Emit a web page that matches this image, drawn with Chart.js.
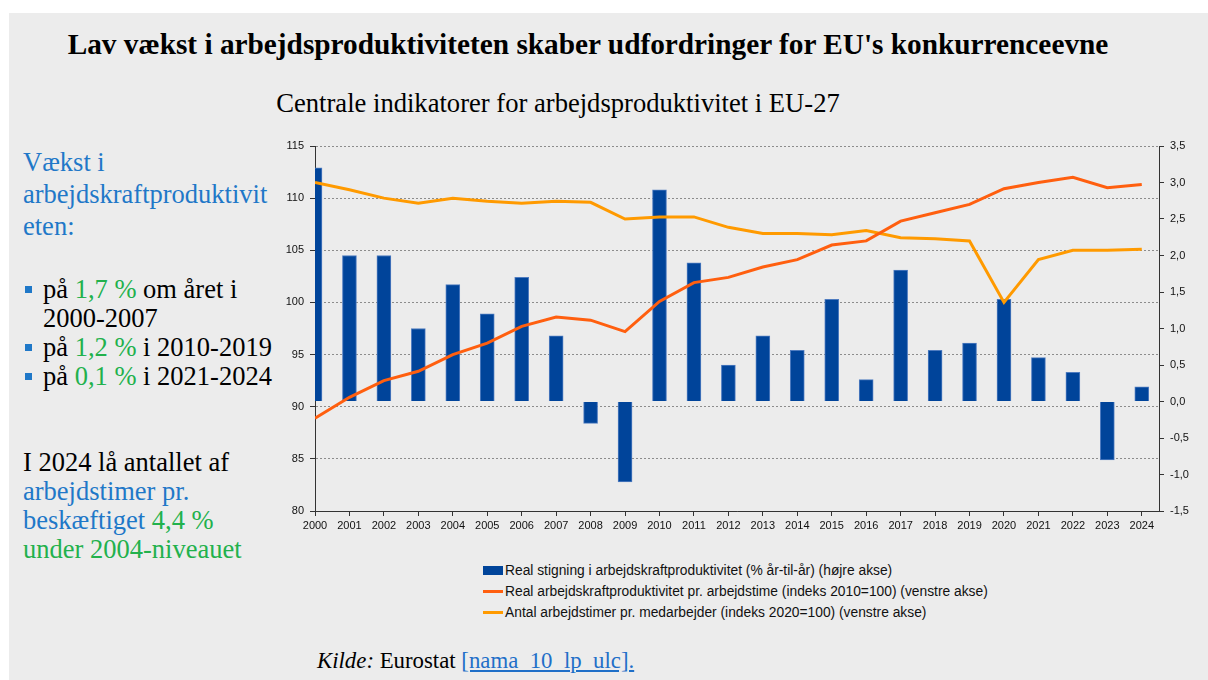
<!DOCTYPE html>
<html>
<head>
<meta charset="utf-8">
<script src="https://cdn.jsdelivr.net/npm/chart.js@4"></script>
<style>
  body { margin: 0; background: #fff; width: 1208px; height: 680px; overflow: hidden; position: relative; }
  #panel { position: absolute; left: 9px; top: 13px; width: 1199px; height: 667px; background: #ececec; }
  .serif { font-family: "Liberation Serif", "Times New Roman", serif; }
  #title { position: absolute; left: 0; width: 1176px; top: 27px; text-align: center; font-weight: bold; font-size: 29.3px; line-height: 34px; color: #000; white-space: nowrap; }
  #subtitle { position: absolute; left: 0; width: 1116px; top: 88px; text-align: center; font-size: 26.6px; line-height: 30px; color: #000; white-space: nowrap; }
  .side { position: absolute; left: 23px; font-size: 26.5px; color: #000; white-space: nowrap; }
  .blue { color: #1f78c8; }
  .green { color: #22b14c; }
  #side1 { top: 146px; line-height: 32px; }
  #side2 { top: 275px; line-height: 29px; }
  #side2 div { position: relative; padding-left: 20px; }
  #side2 div::before { content: ""; position: absolute; left: 2px; top: 11px; width: 7px; height: 7px; background: #1f78c8; }
  #side3 { top: 448px; line-height: 29px; }
  #chartBox { position: absolute; left: 260px; top: 130px; width: 944px; height: 410px; }
  #legend { position: absolute; left: 483px; top: 560px; font-family: "Liberation Sans", Arial, sans-serif; font-size: 13.8px; color: #111; white-space: nowrap; }
  #legend .row { height: 21px; line-height: 21px; display: flex; align-items: center; }
  #legend .mark { width: 20px; margin-right: 2px; }
  #source { position: absolute; left: 317px; top: 648px; font-size: 22.8px; line-height: 26px; white-space: nowrap; }
  #source a { color: #1f6fc8; text-decoration: underline; }
</style>
</head>
<body>
<div id="panel"></div>
<div id="title" class="serif">Lav vækst i arbejdsproduktiviteten skaber udfordringer for EU's konkurrenceevne</div>
<div id="subtitle" class="serif">Centrale indikatorer for arbejdsproduktivitet i EU-27</div>

<div id="side1" class="side serif blue">Vækst i<br>arbejdskraftproduktivit<br>eten:</div>
<div id="side2" class="side serif">
  <div>på <span class="green">1,7 %</span> om året i<br>2000-2007</div>
  <div>på <span class="green">1,2 %</span> i 2010-2019</div>
  <div>på <span class="green">0,1 %</span> i 2021-2024</div>
</div>
<div id="side3" class="side serif">I 2024 lå antallet af<br><span class="blue">arbejdstimer pr.<br>beskæftiget</span> <span class="green">4,4 %<br>under 2004-niveauet</span></div>

<div id="chartBox"><canvas id="chart"></canvas></div>
<div id="legend"></div>
<div id="source" class="serif"><i>Kilde:</i> Eurostat <a>[nama_10_lp_ulc].</a></div>

<script>
// data
const years = [2000, 2001, 2002, 2003, 2004, 2005, 2006, 2007, 2008, 2009, 2010, 2011, 2012,
               2013, 2014, 2015, 2016, 2017, 2018, 2019, 2020, 2021, 2022, 2023, 2024];
const growthPct = [3.2, 2.0, 2.0, 1.0, 1.6, 1.2, 1.7, 0.9, -0.3, -1.1, 2.9, 1.9, 0.5,
                   0.9, 0.7, 1.4, 0.3, 1.8, 0.7, 0.8, 1.4, 0.6, 0.4, -0.8, 0.2];
const productivityIndex = [88.9, 90.9, 92.5, 93.4, 95.0, 96.1, 97.7, 98.6, 98.3, 97.2, 100.1, 101.9, 102.4,
                           103.4, 104.1, 105.5, 105.9, 107.8, 108.6, 109.4, 110.9, 111.5, 112.0, 111.0, 111.3];
const hoursIndex = [111.5, 110.8, 110.0, 109.5, 110.0, 109.7, 109.5, 109.7, 109.6, 108.0, 108.2, 108.2, 107.2,
                    106.6, 106.6, 106.5, 106.9, 106.2, 106.1, 105.9, 100.0, 104.1, 105.0, 105.0, 105.1];
const seriesLabels = [
    "Real stigning i arbejdskraftproduktivitet (% år-til-år) (højre akse)",
    "Real arbejdskraftproduktivitet pr. arbejdstime (indeks 2010=100) (venstre akse)",
    "Antal arbejdstimer pr. medarbejder (indeks 2020=100) (venstre akse)"
];

const BAR_BLUE = "#00449a";
const PROD_ORANGE = "#ff5f0f";
const HOURS_ORANGE = "#ff9a00";
const tickFont = { family: "'Liberation Sans', Arial, sans-serif", size: 11 };

const toPoints = vals => vals.map((v, i) => ({ x: years[i], y: v }));

const ctx = document.getElementById("chart").getContext("2d");
new Chart(ctx, {
    data: {
        datasets: [
            {
                type: "line",
                label: seriesLabels[1],
                data: toPoints(productivityIndex),
                borderColor: PROD_ORANGE,
                borderWidth: 3,
                pointRadius: 0,
                yAxisID: "y",
                order: 1
            },
            {
                type: "line",
                label: seriesLabels[2],
                data: toPoints(hoursIndex),
                borderColor: HOURS_ORANGE,
                borderWidth: 3,
                pointRadius: 0,
                yAxisID: "y",
                order: 2
            },
            {
                type: "bar",
                label: seriesLabels[0],
                data: toPoints(growthPct),
                backgroundColor: BAR_BLUE,
                borderColor: "#4f7cc0",
                borderWidth: 1,
                barThickness: 14,
                yAxisID: "y1",
                order: 3
            }
        ]
    },
    options: {
        responsive: true,
        maintainAspectRatio: false,
        animation: false,
        layout: { padding: { top: 16, left: 0, right: 0, bottom: 0 } },
        plugins: {
            legend: { display: false },
            tooltip: { enabled: false }
        },
        scales: {
            x: {
                type: "linear",
                offset: false,
                min: 2000,
                max: 2024.5,
                afterBuildTicks: axis => {
                    axis.ticks = years.map(y => ({ value: y }));
                },
                afterFit: scale => { scale.height = 29; },
                ticks: {
                    autoSkip: false,
                    maxRotation: 0,
                    padding: 3,
                    color: "#111",
                    font: tickFont,
                    callback: v => String(v)
                },
                grid: { offset: false, drawOnChartArea: false, drawTicks: true, tickLength: 5, color: "#333" },
                border: { display: true, color: "#333", width: 1 }
            },
            y: {
                position: "left",
                min: 80,
                max: 115,
                afterFit: scale => { scale.width = 55; },
                ticks: { stepSize: 5, color: "#111", font: tickFont, padding: 6 },
                grid: { color: "#8c8c8c", lineWidth: 1, drawTicks: true, tickLength: 5, tickColor: "#333" },
                border: { display: true, color: "#333", width: 1, dash: [2, 2] }
            },
            y1: {
                position: "right",
                min: -1.5,
                max: 3.5,
                afterFit: scale => { scale.width = 45; },
                ticks: {
                    stepSize: 0.5,
                    color: "#111",
                    font: tickFont,
                    padding: 6,
                    callback: v => v.toFixed(1).replace(".", ",")
                },
                grid: { drawOnChartArea: false, drawTicks: true, tickLength: 5, color: "#333" },
                border: { display: true, color: "#333", width: 1 }
            }
        }
    }
});

// legend block, left aligned like the original
const legend = document.getElementById("legend");
const marks = [
    '<div class="mark" style="height:9px;background:' + BAR_BLUE + '"></div>',
    '<div class="mark" style="height:3px;background:' + PROD_ORANGE + '"></div>',
    '<div class="mark" style="height:3px;background:' + HOURS_ORANGE + '"></div>'
];
seriesLabels.forEach((label, i) => {
    const row = document.createElement("div");
    row.className = "row";
    row.innerHTML = marks[i] + "<span>" + label + "</span>";
    legend.appendChild(row);
});
</script>
</body>
</html>
